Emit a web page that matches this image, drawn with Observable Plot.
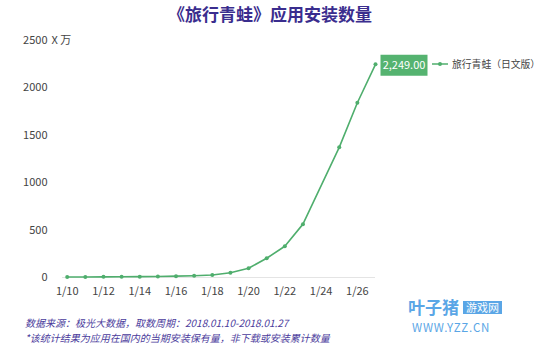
<!DOCTYPE html>
<html>
<head>
<meta charset="utf-8">
<script src="https://cdn.jsdelivr.net/npm/d3@7"></script>
<script src="https://cdn.jsdelivr.net/npm/@observablehq/plot@0.6"></script>
<style>
  html, body { margin: 0; padding: 0; background: #fff; }
  #wrap { position: relative; width: 540px; height: 348px; overflow: hidden; font-family: "Noto Sans CJK SC", "Noto Sans", sans-serif; }
  #title { position: absolute; top: 1px; left: 0; width: 540px; text-align: center; font-size: 17px; font-weight: bold; color: #3a2d8e; }
  #legend { position: absolute; left: 432px; top: 57px; font-size: 9.8px; color: #444; display: flex; align-items: center; white-space: nowrap; }
  #footer { position: absolute; left: 25px; top: 316px; font-size: 10px; line-height: 14.5px; color: #4b3c9c; font-style: italic; }
  #wm { position: absolute; left: 408px; top: 298px; color: #5aa6e6; line-height: 1; }
  #wm .big { font-size: 17px; font-weight: bold; }
  #wm .box { display: inline-block; background: #5aa6e6; color: #fff; font-size: 11px; padding: 1px 3px; margin-left: 4px; vertical-align: 2px; }
  #wm .url { font-size: 11.5px; letter-spacing: 0.8px; margin-left: 4px; margin-top: 7px; }
</style>
</head>
<body>
<div id="wrap">
  <div id="chart"></div>
  <div id="title">《旅行青蛙》应用安装数量</div>
  <div id="legend"></div>
  <div id="footer"><div>数据来源：极光大数据，取数周期：2018.01.10-2018.01.27</div><div>*该统计结果为应用在国内的当期安装保有量，非下载或安装累计数量</div></div>
  <div id="wm"><span class="big">叶子猪</span><span class="box">游戏网</span><div class="url">WWW.YZZ.CN</div></div>
</div>
<script>
// ---- data ----
const days = ["1/10","1/11","1/12","1/13","1/14","1/15","1/16","1/17","1/18","1/19","1/20","1/21","1/22","1/23","1/25","1/26","1/27"];
const installs = [5, 6, 7, 8, 9, 11, 14, 18, 26, 50, 97, 203, 330, 563, 1373, 1843, 2249];
const xTickLabels = ["1/10","1/12","1/14","1/16","1/18","1/20","1/22","1/24","1/26"];
const yTicks = [0, 500, 1000, 1500, 2000, 2500];
const seriesName = "旅行青蛙（日文版）";
const yUnit = "X 万";

const green = "#4fae6d";
const dayNum = s => +s.split("/")[1];
const data = days.map((d, i) => ({day: dayNum(d), v: installs[i]}));
const last = data[data.length - 1];

// rectangular symbol for the value label background
const boxSymbol = {draw(ctx) { ctx.rect(-23.5, -10.5, 47, 21); }};

const chart = Plot.plot({
  width: 540,
  height: 348,
  marginTop: 40,
  marginBottom: 71,
  marginLeft: 62,
  marginRight: 165,
  style: {fontFamily: "'Noto Sans CJK SC', 'Noto Sans', sans-serif", fontSize: "11px", color: "#444", background: "transparent"},
  x: {type: "linear", domain: [dayNum(days[0]), dayNum(days[days.length - 1])], insetLeft: 4.7, label: null},
  y: {domain: [0, 2500], label: null},
  marks: [
    Plot.ruleY([0], {stroke: "#e4e4e4", strokeWidth: 1}),
    Plot.axisY(yTicks, {tickSize: 0, tickPadding: 15, tickFormat: d => String(d), fill: "#444", fontSize: 11, label: null}),
    Plot.text([2500], {y: d => d, text: () => yUnit, frameAnchor: "left", dx: -11, textAnchor: "start", fill: "#444", fontSize: 11}),
    Plot.axisX(xTickLabels.map(dayNum), {tickSize: 0, tickPadding: 10, tickFormat: d => "1/" + d, fill: "#444", fontSize: 11, label: null}),
    Plot.line(data, {x: "day", y: "v", stroke: green, strokeWidth: 1.6}),
    Plot.dot(data, {x: "day", y: "v", r: 2, fill: green}),
    Plot.dot([last], {x: "day", y: "v", symbol: boxSymbol, r: 5, fill: "#55b370", dx: 28.5, dy: 1}),
    Plot.text([last], {x: "day", y: "v", text: d => d3.format(",.2f")(d.v), dx: 28.5, dy: 1, textAnchor: "middle", fill: "#fff", fontSize: 11})
  ]
});
document.getElementById("chart").appendChild(chart);

// legend
const lg = document.getElementById("legend");
lg.innerHTML = `<svg width="18" height="8" style="margin-right:2px"><line x1="0" x2="16" y1="4" y2="4" stroke="${green}" stroke-width="1.5"/><circle cx="8" cy="4" r="2" fill="${green}"/></svg><span>${seriesName}</span>`;
</script>
</body>
</html>
